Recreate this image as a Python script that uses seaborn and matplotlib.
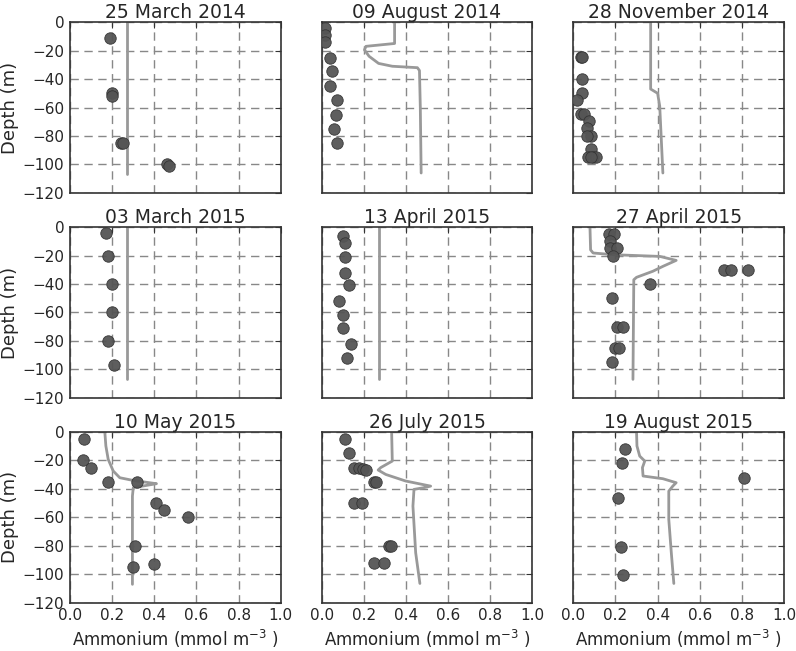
import numpy as np
import matplotlib
matplotlib.use('Agg')
import matplotlib.pyplot as plt
import seaborn as sns

sns.set_style("white")
plt.rcParams['font.family'] = ['DejaVu Sans']

DOT = '#555555'
LINE = '#999999'

titles = ['25 March 2014', '09 August 2014', '28 November 2014',
          '03 March 2015', '13 April 2015', '27 April 2015',
          '10 May 2015', '26 July 2015', '19 August 2015']

# observed ammonium (x) and depth (y) per cruise
obs_nh4_1 = [0.19, 0.20, 0.20, 0.24, 0.25, 0.46, 0.47]
obs_dep_1 = [-11, -50, -52, -85, -85, -100, -101]
obs_nh4_2 = [0.016, 0.016, 0.016, 0.041, 0.05, 0.04, 0.071, 0.069, 0.06, 0.071]
obs_dep_2 = [-4, -9, -14, -25, -34.5, -45, -55, -65, -75, -85]
obs_nh4_3 = [0.035, 0.039, 0.039, 0.043, 0.016, 0.036, 0.052, 0.076, 0.066, 0.083, 0.063,
             0.083, 0.071, 0.094, 0.11, 0.085]
obs_dep_3 = [-24.6, -24.6, -40, -50, -55, -64.6, -64.6, -69.5, -74.6, -80, -80,
             -89.4, -94.6, -94.6, -94.6, -94.6]
obs_nh4_4 = [0.17, 0.18, 0.20, 0.20, 0.18, 0.21]
obs_dep_4 = [-4, -20, -40, -60, -80, -97]
obs_nh4_5 = [0.10, 0.11, 0.11, 0.11, 0.13, 0.08, 0.10, 0.10, 0.14, 0.12]
obs_dep_5 = [-6, -11, -21, -32, -41, -52, -62, -71, -82, -92]
obs_nh4_6 = [0.168, 0.194, 0.173, 0.173, 0.208, 0.186, 0.717, 0.748, 0.827, 0.362,
             0.184, 0.205, 0.236, 0.197, 0.217, 0.184]
obs_dep_6 = [-5, -5, -10, -15, -15, -20, -30, -30, -30, -40,
             -50, -70, -70, -85, -85, -95]
obs_nh4_7 = [0.066, 0.063, 0.099, 0.178, 0.32, 0.406, 0.444, 0.559, 0.309, 0.299, 0.398]
obs_dep_7 = [-5, -20, -25, -35, -35, -50, -55, -60, -80, -95, -93]
obs_nh4_8 = [0.11, 0.129, 0.151, 0.178, 0.198, 0.209, 0.246, 0.257, 0.151, 0.189,
             0.32, 0.331, 0.249, 0.296]
obs_dep_8 = [-5, -15, -25, -25, -26, -27, -35, -35, -50, -50, -80, -80, -92, -92]
obs_nh4_9 = [0.244, 0.233, 0.811, 0.213, 0.224, 0.236]
obs_dep_9 = [-12, -22, -32, -46, -81, -100.5]

# modelled profiles
mod_nh4_1 = [0.27, 0.27]
mod_dep_1 = [0, -107]
mod_nh4_2 = [0.346, 0.346, 0.21, 0.203, 0.225, 0.27, 0.335, 0.454, 0.464, 0.468, 0.472]
mod_dep_2 = [0, -15, -17, -19.5, -24, -29, -31, -32, -34, -60, -106]
mod_nh4_3 = [0.367, 0.367, 0.40, 0.41, 0.425]
mod_dep_3 = [0, -47, -50, -59, -106]
mod_nh4_4 = [0.27, 0.27]
mod_dep_4 = [0, -107]
mod_nh4_5 = [0.27, 0.27]
mod_dep_5 = [0, -107]
mod_nh4_6 = [0.079, 0.082, 0.094, 0.19, 0.41, 0.488, 0.425, 0.378, 0.30, 0.287, 0.283]
mod_dep_6 = [0, -16, -18.2, -19.4, -20.6, -23.4, -27.6, -31, -35.3, -37, -107]
mod_nh4_7 = [0.165, 0.17, 0.181, 0.205, 0.236, 0.299, 0.41, 0.37, 0.30, 0.296, 0.296]
mod_dep_7 = [0, -9.8, -19.2, -27.4, -32.1, -34, -36.3, -37.3, -39.1, -45, -107]
mod_nh4_8 = [0.332, 0.335, 0.28, 0.268, 0.304, 0.398, 0.517, 0.485, 0.438, 0.433, 0.446, 0.466]
mod_dep_8 = [0, -20.4, -25, -26.7, -29.8, -34.4, -38, -39.1, -40.3, -52, -84.8, -106.4]
mod_nh4_9 = [0.30, 0.302, 0.315, 0.339, 0.328, 0.331, 0.425, 0.488, 0.472, 0.453, 0.453, 0.465, 0.477]
mod_dep_9 = [0, -9.8, -16.9, -20.4, -25, -30.9, -32.8, -35.6, -38, -41.5, -61.4, -84.8, -106.4]

obs_nh4 = [obs_nh4_1, obs_nh4_2, obs_nh4_3, obs_nh4_4, obs_nh4_5, obs_nh4_6, obs_nh4_7, obs_nh4_8, obs_nh4_9]
obs_dep = [obs_dep_1, obs_dep_2, obs_dep_3, obs_dep_4, obs_dep_5, obs_dep_6, obs_dep_7, obs_dep_8, obs_dep_9]
mod_nh4 = [mod_nh4_1, mod_nh4_2, mod_nh4_3, mod_nh4_4, mod_nh4_5, mod_nh4_6, mod_nh4_7, mod_nh4_8, mod_nh4_9]
mod_dep = [mod_dep_1, mod_dep_2, mod_dep_3, mod_dep_4, mod_dep_5, mod_dep_6, mod_dep_7, mod_dep_8, mod_dep_9]

x_ticks = [0.0, 0.2, 0.4, 0.6, 0.8, 1.0]
y_ticks = [0, -20, -40, -60, -80, -100, -120]

fig, axes = plt.subplots(3, 3, figsize=(7.96, 6.51), dpi=100, sharex=True, sharey=True)
fig.subplots_adjust(left=0.088, right=0.985, top=0.966, bottom=0.074, wspace=0.194, hspace=0.2)

for i, ax in enumerate(axes.flat):
    sns.lineplot(x=mod_nh4[i], y=mod_dep[i], sort=False, estimator=None, ax=ax,
                 color=LINE, linewidth=2, zorder=2)
    sns.scatterplot(x=obs_nh4[i], y=obs_dep[i], ax=ax, s=68, color=DOT,
                    edgecolor='#333333', linewidth=0.6, alpha=0.95, zorder=3)
    ax.set_xlim(0, 1)
    ax.set_ylim(-120, 0)
    ax.set_xticks(x_ticks)
    ax.set_yticks(y_ticks)
    ax.grid(True, linestyle=(0, (6, 4)), color='#888888', linewidth=1)
    ax.set_axisbelow(True)
    ax.tick_params(direction='in', length=4, labelsize=11, pad=4, top=True, right=True,
                   color='#333333')
    for s in ax.spines.values():
        s.set_color('#333333')
        s.set_linewidth(1.2)
    ax.set_title(titles[i], fontsize=13.5, pad=3)
    ax.set_xlabel('')
    ax.set_ylabel('')
    r, c = divmod(i, 3)
    if c == 0:
        ax.set_ylabel('Depth (m)', fontsize=13, labelpad=3)
    if r == 2:
        ax.set_xlabel(r'Ammonium (mmol m$^{-3}$ )', fontsize=12, labelpad=3)
        ax.set_xticklabels([f'{t:.1f}' for t in x_ticks])

plt.savefig('out.png', dpi=100)
plt.close()
